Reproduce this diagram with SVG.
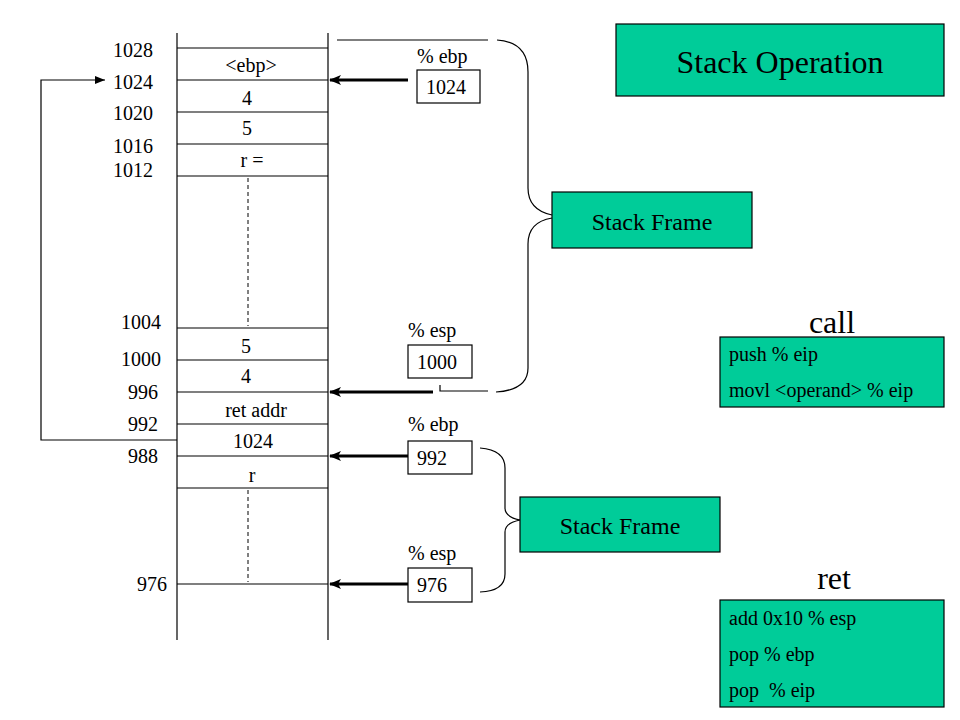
<svg xmlns="http://www.w3.org/2000/svg" width="960" height="720" viewBox="0 0 960 720" font-family="'Liberation Serif', 'DejaVu Serif', serif">
<style>
text{font-family:"Liberation Serif","DejaVu Serif",serif;fill:#000}
.t{font-size:20px}
.c{text-anchor:middle}
.r{text-anchor:end}
.ln{stroke:#000;stroke-width:1.2;fill:none}
.dash{stroke:#000;stroke-width:1;stroke-dasharray:4,3;fill:none}
.thick{stroke:#000;stroke-width:3;fill:none}
.box{fill:#fff;stroke:#000;stroke-width:1.2}
.green{fill:#00CC99;stroke:#000;stroke-width:1.2}
</style>
<defs>
<marker id="ah" markerWidth="12" markerHeight="10" refX="11" refY="5" orient="auto" markerUnits="userSpaceOnUse">
<path d="M0,0 L12,5 L0,10 L3,5 Z" fill="#000"/>
</marker>
<marker id="ahs" markerWidth="10" markerHeight="8" refX="10" refY="4" orient="auto" markerUnits="userSpaceOnUse">
<path d="M0,0 L10,4 L0,8 Z" fill="#000"/>
</marker>
</defs>
<rect width="960" height="720" fill="#fff"/>

<g id="stack">
<line class="ln" x1="177" y1="33" x2="177" y2="640"/>
<line class="ln" x1="328" y1="33" x2="328" y2="640"/>
<line class="ln" x1="177" y1="48" x2="328" y2="48"/>
<line class="ln" x1="177" y1="80" x2="328" y2="80"/>
<line class="ln" x1="177" y1="112" x2="328" y2="112"/>
<line class="ln" x1="177" y1="144" x2="328" y2="144"/>
<line class="ln" x1="177" y1="176" x2="328" y2="176"/>
<line class="dash" x1="248" y1="178" x2="248" y2="326"/>
<line class="ln" x1="177" y1="328" x2="328" y2="328"/>
<line class="ln" x1="177" y1="360" x2="328" y2="360"/>
<line class="ln" x1="177" y1="392" x2="328" y2="392"/>
<line class="ln" x1="177" y1="424" x2="328" y2="424"/>
<line class="ln" x1="177" y1="456" x2="328" y2="456"/>
<line class="ln" x1="177" y1="488" x2="328" y2="488"/>
<line class="dash" x1="248" y1="490" x2="248" y2="582"/>
<line class="ln" x1="177" y1="584" x2="328" y2="584"/>
<text class="t c" x="251" y="72">&lt;ebp&gt;</text>
<text class="t c" x="247" y="105">4</text>
<text class="t c" x="247" y="135">5</text>
<text class="t c" x="252" y="167">r =</text>
<text class="t c" x="246" y="353">5</text>
<text class="t c" x="246" y="383">4</text>
<text class="t c" x="256" y="417">ret addr</text>
<text class="t c" x="253" y="448">1024</text>
<text class="t c" x="252" y="482">r</text>
</g>

<g id="addresses">
<text class="t r" x="153" y="57">1028</text>
<text class="t r" x="153" y="89">1024</text>
<text class="t r" x="153" y="120">1020</text>
<text class="t r" x="153" y="153">1016</text>
<text class="t r" x="153" y="177">1012</text>
<text class="t r" x="161" y="329">1004</text>
<text class="t r" x="161" y="366">1000</text>
<text class="t r" x="158" y="399">996</text>
<text class="t r" x="158" y="431">992</text>
<text class="t r" x="158" y="463">988</text>
<text class="t r" x="167" y="591">976</text>
</g>

<g id="ebp1">
<text class="t" x="417" y="63">% ebp</text>
<rect class="box" x="417" y="70" width="63" height="33"/>
<text class="t" x="426" y="94">1024</text>
</g>
<g id="esp1">
<text class="t" x="408" y="337">% esp</text>
<rect class="box" x="408" y="345" width="64" height="33"/>
<text class="t" x="417" y="369">1000</text>
</g>
<g id="ebp2">
<text class="t" x="408" y="431">% ebp</text>
<rect class="box" x="408" y="441" width="64" height="33"/>
<text class="t" x="417" y="465">992</text>
</g>
<g id="esp2">
<text class="t" x="408" y="560">% esp</text>
<rect class="box" x="408" y="568" width="64" height="34"/>
<text class="t" x="417" y="592">976</text>
</g>

<g id="frame1">
<rect class="green" x="552" y="192" width="200" height="56"/>
<text class="c" x="652" y="230" font-size="24">Stack Frame</text>
</g>
<g id="frame2">
<rect class="green" x="520" y="497" width="200" height="55"/>
<text class="c" x="620" y="534" font-size="24">Stack Frame</text>
</g>
<g id="title">
<rect class="green" x="616" y="24" width="328" height="72"/>
<text class="c" x="780" y="73" font-size="32">Stack Operation</text>
</g>
<g id="call">
<text class="c" x="832" y="333" font-size="32">call</text>
<rect class="green" x="720" y="337" width="224" height="70"/>
<text class="t" x="729" y="361">push % eip</text>
<text class="t" x="729" y="397">movl &lt;operand&gt; % eip</text>
</g>
<g id="ret">
<text class="c" x="834" y="589" font-size="32">ret</text>
<rect class="green" x="720" y="600" width="224" height="107"/>
<text class="t" x="729" y="625">add 0x10 % esp</text>
<text class="t" x="729" y="661">pop % ebp</text>
<text class="t" x="729" y="697" xml:space="preserve">pop  % eip</text>
</g>

<g id="connectors">
<line class="thick" x1="408" y1="80" x2="330" y2="80" marker-end="url(#ah)"/>
<line class="thick" x1="433" y1="392" x2="330" y2="392" marker-end="url(#ah)"/>
<line class="thick" x1="408" y1="456" x2="330" y2="456" marker-end="url(#ah)"/>
<line class="thick" x1="408" y1="584" x2="330" y2="584" marker-end="url(#ah)"/>
<polyline class="ln" points="177,440 41,440 41,80 105,80" marker-end="url(#ahs)"/>
<line class="ln" x1="337" y1="40" x2="488" y2="40"/>
<path class="ln" d="M497,40 Q528,42 528,72 L528,188 Q528,210 552,215"/>
<path class="ln" d="M552,218 Q528,222 528,244 L528,368 Q528,390 496,392"/>
<polyline class="ln" points="440,385 440,391 488,391"/>
<path class="ln" d="M480,448 Q505,450 505,468 L505,508 Q505,517 520,520"/>
<path class="ln" d="M520,520 Q505,523 505,532 L505,574 Q505,591 480,592"/>
</g>
</svg>
